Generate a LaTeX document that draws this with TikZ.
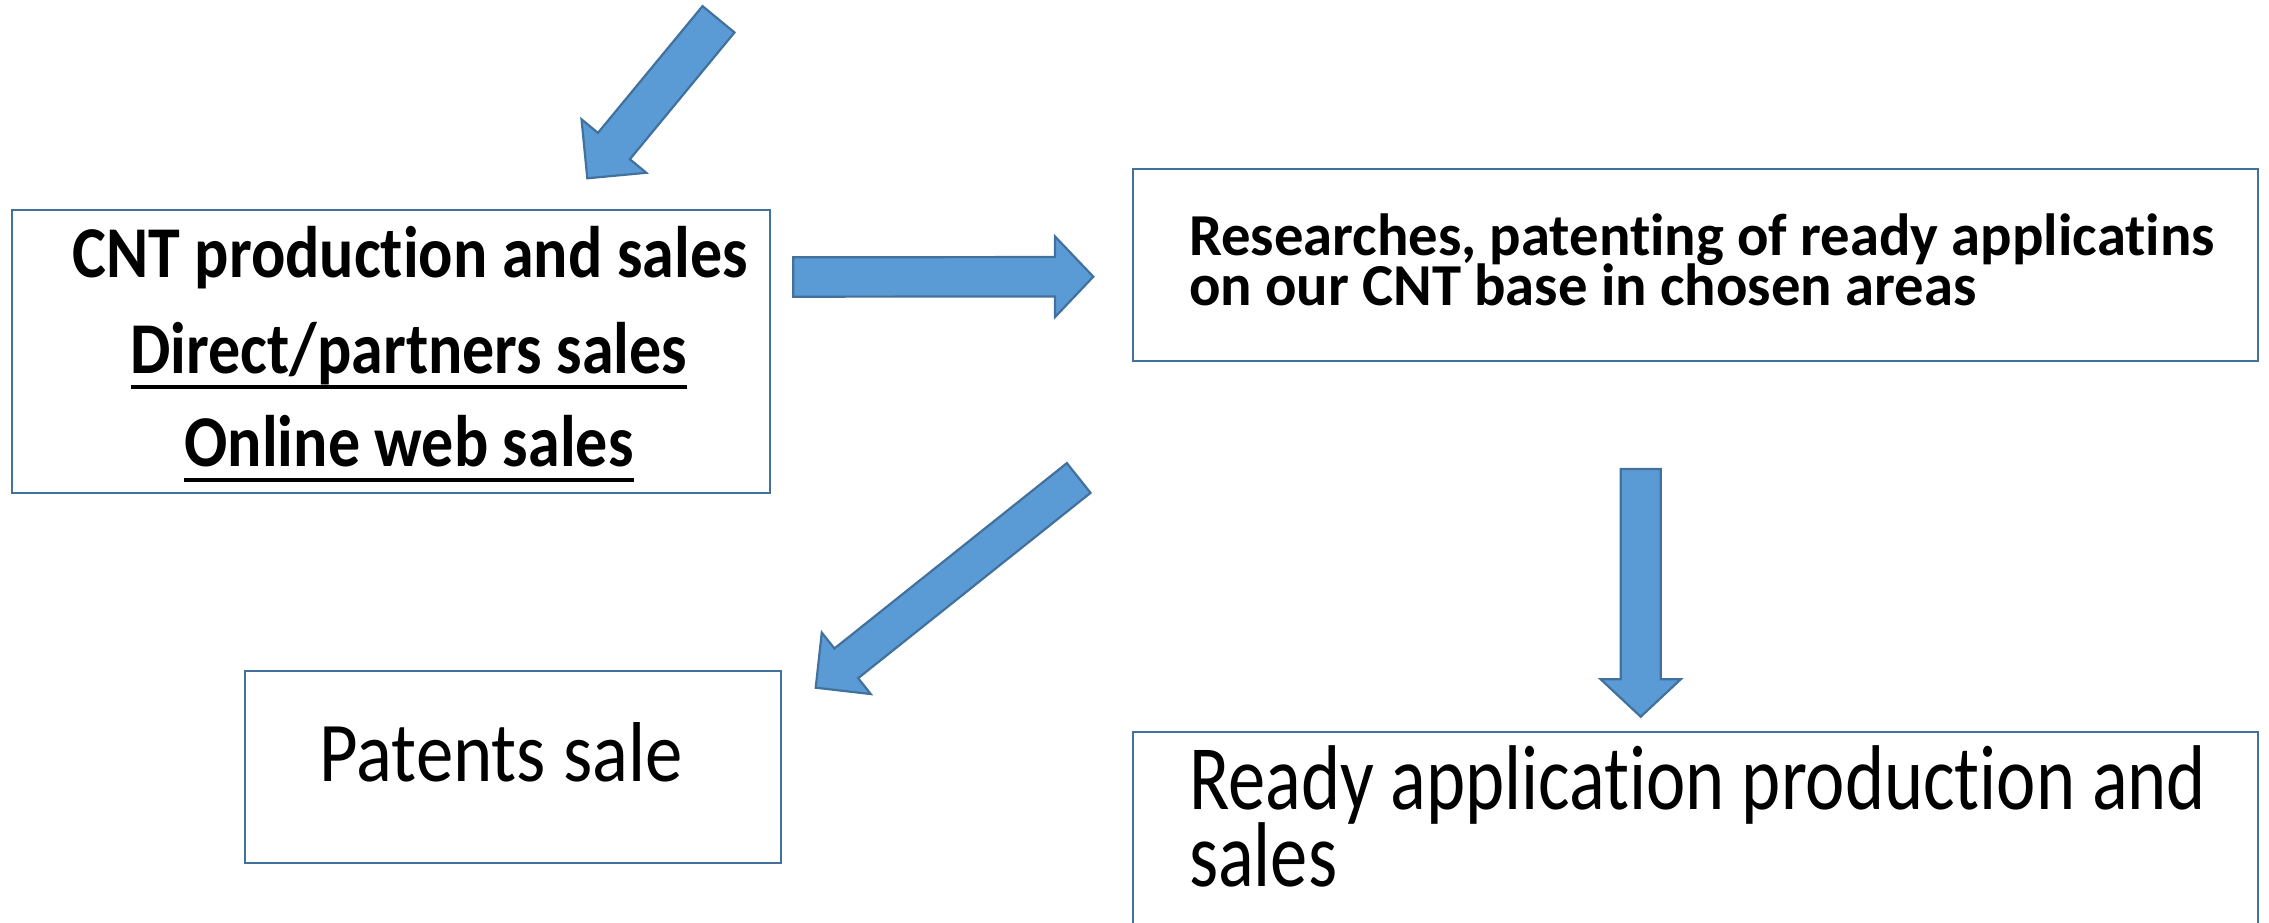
\documentclass[tikz,border=0pt]{standalone}
\usepackage{graphicx}
\usepackage{fontspec}
\setmainfont[Ligatures={NoCommon}]{Carlito}
\usetikzlibrary{calc}

\definecolor{arrowfill}{HTML}{5B9BD5}
\definecolor{edgeblue}{HTML}{41719C}

\tikzset{
  box/.style={draw=edgeblue, line width=2.5pt, fill=white, inner sep=0pt},
  blockarrow/.style={fill=arrowfill, draw=edgeblue, line width=2.2pt, line join=miter},
  txt/.style={inner sep=0pt, outer sep=0pt},
  uline/.style={line width=4.5pt, black}
}

% \blockarrow{name}{tail}{tip}{shaft half width}{head half width}{head length}
\newcommand\blockarrow[6]{%
  \coordinate (#1T) at #2;
  \coordinate (#1H) at #3;
  \coordinate (#1B) at ($(#1H)!#6!(#1T)$);
  \filldraw[blockarrow]
    ($(#1T)!#4!90:(#1H)$) -- ($(#1B)!#4!90:(#1H)$) -- ($(#1B)!#5!90:(#1H)$)
    -- (#1H)
    -- ($(#1B)!#5!-90:(#1H)$) -- ($(#1B)!#4!-90:(#1H)$) -- ($(#1T)!#4!-90:(#1H)$)
    -- cycle;
}

% condensed text line: \condline{x-scale}{font size}{text}
\newcommand\condline[3]{\scalebox{#1}[1]{\fontsize{#2}{#2}\selectfont #3}}

\begin{document}
\begin{tikzpicture}[x=1pt, y=-1pt]
\useasboundingbox (0,0) rectangle (2269,923);
\clip (0,0) rectangle (2269,923);

% boxes
\node[box, minimum width=758pt, minimum height=283pt] (cnt) at (391,351.5) {};
\node[box, minimum width=1125pt, minimum height=192pt] (res) at (1695.5,265) {};
\node[box, minimum width=536pt, minimum height=192pt] (pat) at (513,767) {};
\node[box, minimum width=1125pt, minimum height=240pt] (ready) at (1695.5,852) {};

% texts of the first box
\node[txt, anchor=base] (cnt1) at (410,277)
  {\condline{0.877}{73}{\bfseries CNT production and sales}};
\node[txt, anchor=base] (cnt2) at (409,373)
  {\condline{0.877}{73}{\bfseries Direct/partners sales}};
\node[txt, anchor=base] (cnt3) at (409,466)
  {\condline{0.877}{73}{\bfseries Online web sales}};
\draw[uline] ([yshift=-14pt]cnt2.base west) -- ([yshift=-14pt]cnt2.base east);
\draw[uline] ([yshift=-14pt]cnt3.base west) -- ([yshift=-14pt]cnt3.base east);

% research box
\node[txt, anchor=base west] (res1) at (1189,255)
  {\condline{0.986}{59.5}{\bfseries Researches, patenting of ready applicatins}};
\node[txt, anchor=base west] (res2) at (1189,305)
  {\condline{0.986}{59.5}{\bfseries on our CNT base in chosen areas}};

% patents box
\node[txt, anchor=base] (pat1) at (501,781)
  {\condline{0.88}{85}{Patents sale}};

% ready application box
\node[txt, anchor=base west] (ready1) at (1189,809)
  {\condline{0.81}{92}{Ready application production and}};
\node[txt, anchor=base west] (ready2) at (1189,886)
  {\condline{0.81}{92}{sales}};

% block arrows
\blockarrow{a}{(718.5,19.3)}{(587.3,178.3)}{20.7pt}{42pt}{41.8pt}
\blockarrow{b}{(793.3,277)}{(1093.3,276.7)}{19.7pt}{40.3pt}{38.3pt}
\blockarrow{c}{(1078.7,478)}{(815.7,687.7)}{19pt}{39.3pt}{39.1pt}
\blockarrow{d}{(1640.7,469)}{(1640.7,716.7)}{20pt}{40pt}{37.4pt}
\end{tikzpicture}
\end{document}
